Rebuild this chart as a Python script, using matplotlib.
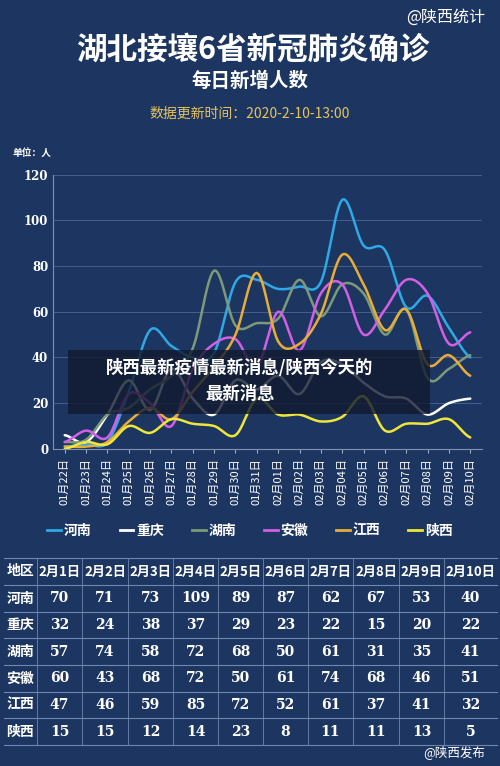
import numpy as np
import matplotlib.pyplot as plt
from matplotlib.lines import Line2D
from matplotlib.patches import Rectangle

plt.rcParams['font.family'] = ['Noto Sans CJK SC', 'DejaVu Sans']

# --- 数据 ---
dates = ['01月22日', '01月23日', '01月24日', '01月25日', '01月26日', '01月27日', '01月28日',
         '01月29日', '01月30日', '01月31日', '02月01日', '02月02日', '02月03日', '02月04日',
         '02月05日', '02月06日', '02月07日', '02月08日', '02月09日', '02月10日']
henan = [1, 2, 3, 25, 52, 45, 40, 42, 73, 74, 70, 71, 73, 109, 89, 87, 62, 67, 53, 40]
chongqing = [6, 3, 15, 30, 17, 35, 22, 15, 30, 26, 32, 24, 38, 37, 29, 23, 22, 15, 20, 22]
hunan = [3, 4, 15, 18, 26, 32, 44, 78, 54, 55, 57, 74, 58, 72, 68, 50, 61, 31, 35, 41]
anhui = [3, 8, 5, 24, 20, 10, 35, 46, 48, 36, 60, 43, 68, 72, 50, 61, 74, 68, 46, 51]
jiangxi = [1, 1, 3, 12, 18, 13, 25, 36, 50, 77, 47, 46, 59, 85, 72, 52, 61, 37, 41, 32]
shaanxi = [0, 3, 2, 10, 7, 13, 11, 10, 6, 22, 15, 15, 12, 14, 23, 8, 11, 11, 13, 5]

regions = ['河南', '重庆', '湖南', '安徽', '江西', '陕西']
series = [henan, chongqing, hunan, anhui, jiangxi, shaanxi]
colors = ['#2ea8e6', '#ffffff', '#7d9a78', '#d35fe6', '#e8ad38', '#eee63a']
table_cols = ['2月1日', '2月2日', '2月3日', '2月4日', '2月5日',
              '2月6日', '2月7日', '2月8日', '2月9日', '2月10日']

bg = '#1d3661'


def smooth(y, n=12):
    # Catmull-Rom 平滑曲线
    y = np.asarray(y, float)
    p = np.concatenate([[y[0]], y, [y[-1]]])
    xs, ys = [], []
    for i in range(len(y) - 1):
        p0, p1, p2, p3 = p[i], p[i + 1], p[i + 2], p[i + 3]
        t = np.linspace(0, 1, n, endpoint=False)
        v = 0.5 * (2 * p1 + (-p0 + p2) * t + (2 * p0 - 5 * p1 + 4 * p2 - p3) * t ** 2
                   + (-p0 + 3 * p1 - 3 * p2 + p3) * t ** 3)
        xs.extend(i + t)
        ys.extend(v)
    xs.append(len(y) - 1)
    ys.append(y[-1])
    return np.array(xs), np.array(ys)


fig = plt.figure(figsize=(5, 7.66), dpi=100, facecolor=bg)

# --- 标题 ---
fig.text(0.97, 0.978, '@陕西统计', ha='right', va='center', color='white', fontsize=11.5)
fig.text(0.505, 0.935, '湖北接壤6省新冠肺炎确诊', ha='center', va='center', color='white',
         fontsize=22, fontweight='bold')
fig.text(0.5, 0.894, '每日新增人数', ha='center', va='center', color='white',
         fontsize=14, fontweight='bold')
fig.text(0.5, 0.851, '数据更新时间：2020-2-10-13:00', ha='center', va='center',
         color='#e6c35c', fontsize=10)
fig.text(0.025, 0.801, '单位：人', ha='left', va='center', color='white', fontsize=7, fontweight='bold')

# --- 折线图 ---
ax = fig.add_axes([0.106, 0.414, 0.858, 0.358])
ax.set_facecolor(bg)
x = np.arange(len(dates))
for s, c in zip(series, colors):
    sx, sy = smooth(s)
    ax.plot(sx, sy, color=c, lw=1.8, solid_capstyle='round')
ax.set_xlim(-0.55, 19.55)
ax.set_ylim(0, 120)
ax.set_yticks(range(0, 121, 20))
ax.set_xticks(x)
ax.set_xticklabels(dates, rotation=90, fontsize=8, color='white')
ax.tick_params(axis='y', colors='white', labelsize=8.5, length=0)
ax.tick_params(axis='x', length=3, color='#9aa8c0')
for lab in ax.get_yticklabels():
    lab.set_fontfamily(['DejaVu Serif'])
    lab.set_fontweight('bold')
ax.grid(axis='y', color='#4d6590', lw=0.6)
ax.set_axisbelow(True)
for sp in ['top', 'right']:
    ax.spines[sp].set_visible(False)
ax.spines['left'].set_color('#8090b0')
ax.spines['bottom'].set_color('#8090b0')

handles = [Line2D([], [], color=c, lw=2) for c in colors]
fig.legend(handles, regions, loc='center', bbox_to_anchor=(0.5, 0.307), ncol=6, frameon=False,
           handlelength=1.0, handletextpad=0.2, columnspacing=2.0,
           prop={'size': 10, 'weight': 'bold', 'family': ['Noto Sans CJK SC']}, labelcolor='white')

# --- 表格 ---
H = 766.0
col_edges = [4, 37, 82, 128, 173, 218, 263, 308, 353, 399, 444, 497]
row_edges = [558, 585, 612, 638, 665, 692, 718, 745]
lc = '#6f86ad'
for yv in row_edges:
    fig.add_artist(Line2D([col_edges[0] / 500, col_edges[-1] / 500], [1 - yv / H] * 2, color=lc, lw=0.8))
for xv in col_edges[1:-1]:
    fig.add_artist(Line2D([xv / 500] * 2, [1 - row_edges[0] / H, 1 - row_edges[-1] / H], color=lc, lw=0.6))

table_data = [henan[10:], chongqing[10:], hunan[10:], anhui[10:], jiangxi[10:], shaanxi[10:]]
header = ['地区'] + table_cols
rows = [header] + [[r] + [str(v) for v in vals] for r, vals in zip(regions, table_data)]
for ri, row in enumerate(rows):
    yc = 1 - (row_edges[ri] + row_edges[ri + 1]) / 2 / H
    for ci, cell in enumerate(row):
        xc = (col_edges[ci] + col_edges[ci + 1]) / 2 / 500
        fam = ['DejaVu Serif'] if (ri > 0 and ci > 0) else ['Noto Sans CJK SC', 'DejaVu Sans']
        fs = 9.5 if ri == 0 and ci > 0 else 10
        fig.text(xc, yc, cell, ha='center', va='center', color='white', fontsize=fs,
                 fontweight='bold', family=fam)

fig.text(0.97, 0.018, '@陕西发布', ha='right', va='center', color='white', fontsize=9)

# --- 图片上的标题遮罩 ---
fig.add_artist(Rectangle((68 / 500, 1 - 414 / H), 362 / 500, 64 / H, transform=fig.transFigure,
                         facecolor='#111a2e', alpha=0.8, edgecolor='none'))
fig.text(0.48, 1 - 368 / H, '陕西最新疫情最新消息/陕西今天的', ha='center', va='center',
         color='white', fontsize=12.5, fontweight='bold')
fig.text(0.48, 1 - 394 / H, '最新消息', ha='center', va='center',
         color='white', fontsize=12.5, fontweight='bold')

fig.savefig('out.png', dpi=100, facecolor=bg)
